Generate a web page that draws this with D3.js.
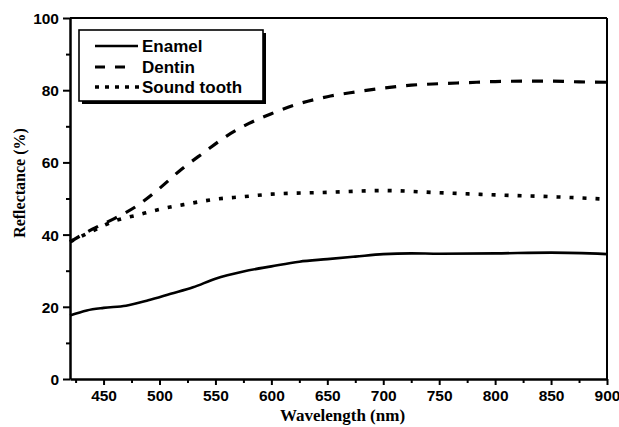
<!DOCTYPE html>
<html>
<head>
<meta charset="utf-8">
<script src="https://cdn.jsdelivr.net/npm/d3@7/dist/d3.min.js"></script>
<style>
  html, body { margin: 0; padding: 0; background: #fff; }
  svg { display: block; }
  .tick-label { font-family: "Liberation Sans", Arial, sans-serif; font-weight: bold; font-size: 15.5px; fill: #000; }
  .axis-title { font-family: "Liberation Serif", "Times New Roman", serif; font-weight: bold; fill: #000; }
  .legend-text { font-family: "Liberation Sans", Arial, sans-serif; font-weight: bold; font-size: 17px; fill: #000; }
</style>
</head>
<body>
<script>
// Wavelength sampling (nm) for each measured spectrum
const enamelNm   = [420, 435, 450, 470, 490, 510, 530, 550, 575, 600, 625, 650, 675, 700, 725, 750, 800, 850, 900];
const enamelVals = [17.6, 19.0, 19.7, 20.3, 21.8, 23.6, 25.4, 27.8, 29.8, 31.2, 32.5, 33.2, 33.9, 34.6, 34.8, 34.7, 34.8, 35.0, 34.6];

const dentinNm   = [420, 440, 460, 480, 500, 520, 540, 560, 580, 600, 620, 650, 675, 700, 725, 750, 775, 800, 825, 850, 875, 900];
const dentinVals = [38.0, 41.5, 44.5, 48.0, 52.8, 58.2, 62.8, 67.3, 70.8, 73.5, 75.8, 78.2, 79.5, 80.6, 81.4, 81.8, 82.1, 82.4, 82.5, 82.5, 82.3, 82.2];

const soundNm    = [420, 440, 460, 480, 500, 525, 550, 575, 600, 650, 700, 750, 800, 850, 900];
const soundVals  = [38.0, 41.0, 43.8, 45.4, 47.0, 48.5, 49.8, 50.5, 51.2, 51.7, 52.2, 51.6, 51.0, 50.5, 49.8];

const seriesNames = ["Enamel", "Dentin", "Sound tooth"];

const xTickValues = [450, 500, 550, 600, 650, 700, 750, 800, 850, 900];
const xMinorTicks = [425, 475, 525, 575, 625, 675, 725, 775, 825, 875];
const yTickValues = [0, 20, 40, 60, 80, 100];
const yMinorTicks = [10, 30, 50, 70, 90];

const W = 619, H = 427;
const plot = { left: 70, right: 607, top: 18, bottom: 379 };

const svg = d3.select("body").append("svg")
  .attr("width", W).attr("height", H);

const x = d3.scaleLinear().domain([420, 900]).range([plot.left, plot.right]);
const y = d3.scaleLinear().domain([0, 100]).range([plot.bottom, plot.top]);

// Frame (top and right edges)
svg.append("line").attr("x1", plot.left).attr("x2", plot.right)
  .attr("y1", plot.top).attr("y2", plot.top)
  .attr("stroke", "#000").attr("stroke-width", 2);
svg.append("line").attr("x1", plot.right).attr("x2", plot.right)
  .attr("y1", plot.top).attr("y2", plot.bottom)
  .attr("stroke", "#000").attr("stroke-width", 2);

// Bottom axis: major ticks with labels, minor ticks between
const xAxis = svg.append("g").attr("transform", `translate(0,${plot.bottom})`)
  .call(d3.axisBottom(x).tickValues(xTickValues).tickSize(6).tickPadding(5).tickSizeOuter(0));
svg.append("g").attr("transform", `translate(0,${plot.bottom})`)
  .call(d3.axisBottom(x).tickValues(xMinorTicks).tickSize(4).tickFormat("").tickSizeOuter(0))
  .call(g => g.select(".domain").remove());

// Left axis
const yAxis = svg.append("g").attr("transform", `translate(${plot.left},0)`)
  .call(d3.axisLeft(y).tickValues(yTickValues).tickSize(7).tickPadding(4).tickSizeOuter(0));
svg.append("g").attr("transform", `translate(${plot.left},0)`)
  .call(d3.axisLeft(y).tickValues(yMinorTicks).tickSize(4).tickFormat("").tickSizeOuter(0))
  .call(g => g.select(".domain").remove());

svg.selectAll(".domain").attr("stroke", "#000").attr("stroke-width", 2.5);
svg.selectAll(".tick line").attr("stroke", "#000").attr("stroke-width", 2);
svg.selectAll(".tick text").attr("class", "tick-label");
yAxis.selectAll(".tick text").attr("dy", "0.36em");

// Axis titles
svg.append("text").attr("class", "axis-title")
  .attr("x", (plot.left + plot.right) / 2 + 4).attr("y", 421)
  .attr("text-anchor", "middle").style("font-size", "17px")
  .text("Wavelength (nm)");
svg.append("text").attr("class", "axis-title")
  .attr("transform", "translate(25,183) rotate(-90)")
  .attr("text-anchor", "middle").style("font-size", "16px")
  .text("Reflectance (%)");

// Spectra
const line = d3.line()
  .x(d => x(d[0])).y(d => y(d[1]))
  .curve(d3.curveMonotoneX);

const series = [
  { name: seriesNames[0], nm: enamelNm, vals: enamelVals, dash: null, width: 2.6 },
  { name: seriesNames[1], nm: dentinNm, vals: dentinVals, dash: "11 10", width: 3.2 },
  { name: seriesNames[2], nm: soundNm, vals: soundVals, dash: "4 9", width: 3.6 }
];

const curves = svg.append("g");
series.forEach(s => {
  curves.append("path")
    .datum(s.nm.map((n, i) => [n, s.vals[i]]))
    .attr("d", line)
    .attr("fill", "none")
    .attr("stroke", "#000")
    .attr("stroke-width", s.width)
    .attr("stroke-dasharray", s.dash);
});

// Legend box with drop shadow
const legend = { x: 79, y: 30, w: 184, h: 71 };
svg.append("rect")
  .attr("x", legend.x + 3).attr("y", legend.y + 3)
  .attr("width", legend.w).attr("height", legend.h)
  .attr("fill", "#000");
svg.append("rect")
  .attr("x", legend.x).attr("y", legend.y)
  .attr("width", legend.w).attr("height", legend.h)
  .attr("fill", "#fff").attr("stroke", "#000").attr("stroke-width", 1.6);

const legendRows = [
  { y: 46, dash: null, x2: 138, width: 2.6 },
  { y: 67, dash: "10 10", x2: 125, width: 3.2 },
  { y: 87, dash: "4 6", x2: 140, width: 3.6 }
];
legendRows.forEach((r, i) => {
  svg.append("line")
    .attr("x1", 95).attr("x2", r.x2)
    .attr("y1", r.y).attr("y2", r.y)
    .attr("stroke", "#000").attr("stroke-width", r.width)
    .attr("stroke-dasharray", r.dash);
  svg.append("text").attr("class", "legend-text")
    .attr("x", 142).attr("y", r.y + 6)
    .text(seriesNames[i]);
});
</script>
</body>
</html>
